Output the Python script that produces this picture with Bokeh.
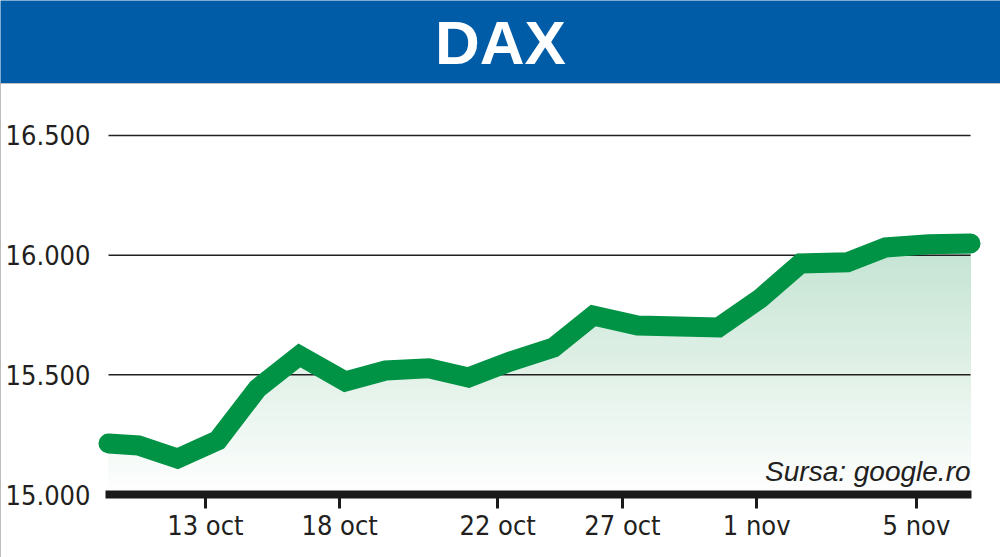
import numpy as np
from bokeh.plotting import figure
from bokeh.layouts import column
from bokeh.models import FixedTicker, Label, Range1d
from bokeh.embed import file_html
from bokeh.resources import INLINE

# ---- data ----
title = "DAX"
source_note = "Sursa: google.ro"
# x position of each trading session (session units)
x_pos = [0, 0.73, 1.68, 2.66, 3.63, 4.65, 5.77, 6.75, 7.80, 8.77, 9.79,
         10.84, 11.81, 12.89, 13.89, 14.86, 15.88, 16.86, 18.0, 18.93, 19.98, 21.0]
dax = [15213, 15205, 15150, 15226, 15443, 15581, 15472, 15518, 15527, 15489, 15556,
       15614, 15748, 15706, 15702, 15698, 15819, 15965, 15970, 16032, 16045, 16049]
x_ticks = [2.36, 5.63, 9.48, 12.52, 15.79, 19.68]
x_tick_labels = ["13 oct", "18 oct", "22 oct", "27 oct", "1 nov", "5 nov"]
y_ticks = [15000, 15500, 16000, 16500]
y_tick_labels = ["15.000", "15.500", "16.000", "16.500"]

BLUE = "#005ca6"
GREEN = "#009245"
INK = "#231f20"
NARROW = "DejaVu Sans Condensed"

# ---- header ----
header = figure(width=1000, height=83, x_range=Range1d(0, 1), y_range=Range1d(0, 1),
                output_backend="svg", toolbar_location=None,
                x_axis_location=None, y_axis_location=None, min_border=0,
                background_fill_color=BLUE, border_fill_color=BLUE,
                outline_line_color=None, frame_align=False)
header.grid.visible = False
header.add_layout(Label(x=0.5, y=0.5, text=title, text_align="center",
                        text_baseline="middle", text_color="white",
                        text_font="Liberation Sans", text_font_style="bold",
                        text_font_size="62px"))

# ---- main chart ----
y_top = 16646
p = figure(width=1000, height=474,
           x_range=Range1d(-0.3167, 21.486), y_range=Range1d(15000, y_top),
           output_backend="svg", toolbar_location=None,
           min_border_left=95, min_border_right=10, min_border_top=17,
           min_border_bottom=63, outline_line_color=None,
           background_fill_color="white", border_fill_color="white",
           frame_align=False)
p.styles = {"outline": "2px solid #a8a8a8", "outline-offset": "-2px"}
p.grid.visible = False

# gradient fill under the line: stacked bands, then a white mask above the line
levels = np.arange(15025, 16101, 25)
c_top = np.array([196, 228, 210])
c_bot = np.array([255, 255, 255])
for hi in levels[::-1]:
    t = min(max((hi - 15000) / 1050.0, 0), 1)
    c = (c_bot * (1 - t) + c_top * t).astype(int)
    p.quad(left=x_pos[0], right=x_pos[-1], bottom=15000, top=hi,
           fill_color="#%02x%02x%02x" % tuple(c), line_color=None)
p.patch(x=[x_pos[0]] + x_pos + [x_pos[-1]],
        y=[y_top] + dax + [y_top],
        fill_color="white", line_color="white", line_width=2)

# horizontal reference lines spanning the data
grid_levels = y_ticks[1:]
p.segment(x0=[x_pos[0]] * len(grid_levels), x1=[x_pos[-1]] * len(grid_levels),
          y0=grid_levels, y1=grid_levels, line_color=INK, line_width=1.5)

p.line(x_pos, dax, line_width=20, line_color=GREEN, line_cap="round",
       line_join="miter")

p.add_layout(Label(x=x_pos[-1], y=15096, text=source_note, text_align="right",
                   text_baseline="alphabetic", text_color=INK,
                   text_font="Liberation Sans", text_font_style="italic",
                   text_font_size="28px"))

xa = p.xaxis[0]
xa.ticker = FixedTicker(ticks=x_ticks)
xa.major_label_overrides = dict(zip(x_ticks, x_tick_labels))
xa.bounds = (x_pos[0] - 0.07, x_pos[-1] + 0.03)
xa.axis_line_width = 8
xa.axis_line_color = "#1a1a1a"
xa.major_tick_out = 14
xa.major_tick_in = 0
xa.major_tick_line_width = 3
xa.major_tick_line_color = "#1a1a1a"
xa.minor_tick_line_color = None
xa.major_label_standoff = 1
xa.major_label_text_font = NARROW
xa.major_label_text_font_size = "27px"
xa.major_label_text_color = INK

ya = p.yaxis[0]
ya.ticker = FixedTicker(ticks=y_ticks)
ya.major_label_overrides = dict(zip(y_ticks, y_tick_labels))
ya.axis_line_color = None
ya.major_tick_line_color = None
ya.major_tick_out = 0
ya.major_tick_in = 0
ya.minor_tick_line_color = None
ya.major_label_standoff = 5
ya.major_label_text_font = NARROW
ya.major_label_text_font_size = "27px"
ya.major_label_text_color = INK

layout = column(header, p, spacing=0)
open("out.html", "w").write(file_html(layout, INLINE))
